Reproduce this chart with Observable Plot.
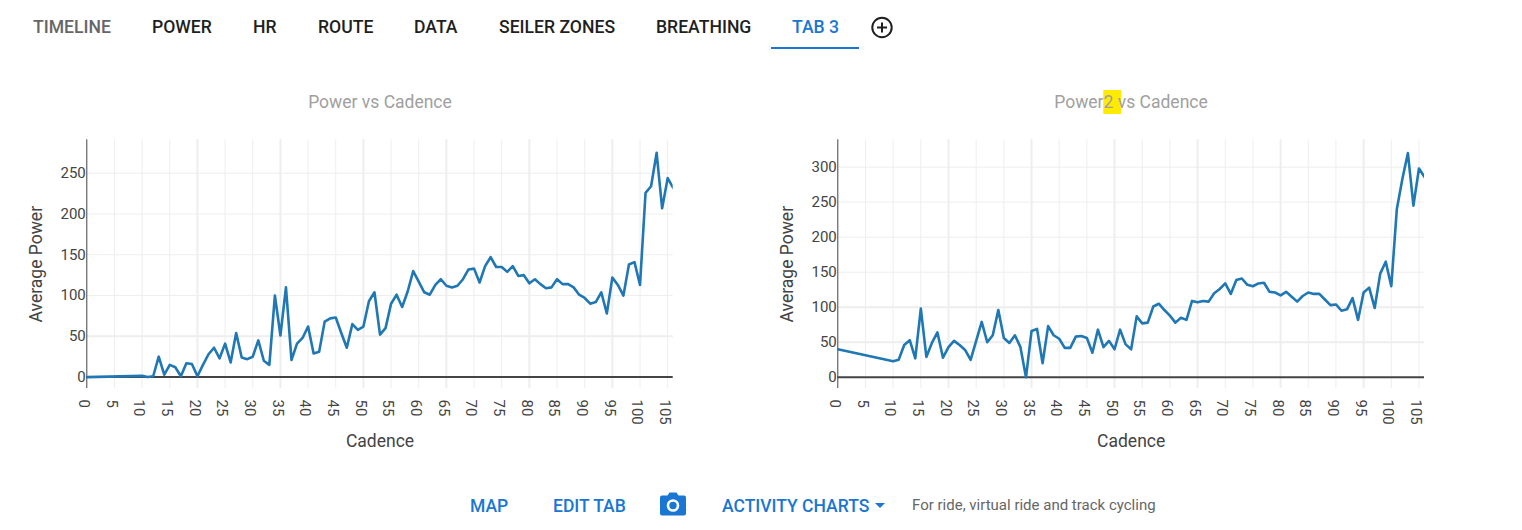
<!DOCTYPE html>
<html>
<head>
<meta charset="utf-8">
<script src="https://cdn.jsdelivr.net/npm/d3@7"></script>
<script src="https://cdn.jsdelivr.net/npm/@observablehq/plot@0.6"></script>
<style>
  html, body { margin: 0; padding: 0; background: #fff; font-family: Roboto, sans-serif; overflow: hidden; }
  #page { position: relative; width: 1522px; height: 530px; overflow: hidden; }
  .nav, .btn, .title, .note { position: absolute; white-space: nowrap; line-height: 20px; }
  .nav { top: 17px; font-size: 17.6px; font-weight: 500; color: #1f1f1f; }
  .nav.muted { color: #666; }
  .nav.active { color: #1976d2; }
  .btn { top: 496px; font-size: 17.5px; font-weight: 500; color: #1976d2; }
  .note { top: 495px; left: 912px; font-size: 15px; color: #666; }
  .title { top: 92px; font-size: 17.5px; color: #a0a0a0; transform: translateX(-50%); }
  .title .hl { background: #ffeb00; box-shadow: 4px 0 0 #ffeb00; padding: 2px 0; }
  #underline { position: absolute; left: 771px; top: 47px; width: 88px; height: 2px; background: #1976d2; }
  .chart { position: absolute; top: 130px; }
  .chart svg { display: block; }
  .icon { position: absolute; }
</style>
</head>
<body>
<div id="page"></div>
<script>
const tabs = ["TIMELINE", "POWER", "HR", "ROUTE", "DATA", "SEILER ZONES", "BREATHING", "TAB 3"];
const tabLefts = [33, 152, 253, 318, 414, 499, 656, 792];
const buttons = ["MAP", "EDIT TAB", "ACTIVITY CHARTS"];
const buttonLefts = [470, 553, 722];
const noteText = "For ride, virtual ride and track cycling";

const xTicks = [0, 5, 10, 15, 20, 25, 30, 35, 40, 45, 50, 55, 60, 65, 70, 75, 80, 85, 90, 95, 100, 105];
const thickX = [20, 35, 50, 65, 80, 95];

const cadence = [0, 10, 11, 12, 13, 14, 15, 16, 17, 18, 19, 20, 21, 22, 23, 24, 25, 26, 27, 28, 29, 30, 31, 32, 33, 34, 35, 36, 37, 38, 39, 40, 41, 42, 43, 44, 45, 46, 47, 48, 49, 50, 51, 52, 53, 54, 55, 56, 57, 58, 59, 60, 61, 62, 63, 64, 65, 66, 67, 68, 69, 70, 71, 72, 73, 74, 75, 76, 77, 78, 79, 80, 81, 82, 83, 84, 85, 86, 87, 88, 89, 90, 91, 92, 93, 94, 95, 96, 97, 98, 99, 100, 101, 102, 103, 104, 105, 106];

const power1 = [0, 1.5, 0, 1, 25, 3, 15, 12, 1, 17, 16, 1, 15, 28, 36, 23, 41, 18, 54, 24, 22, 25, 45, 20, 15, 100, 51, 110, 21, 41, 48, 62, 29, 31, 68, 72, 73, 54, 36, 65, 58, 62, 93, 104, 52, 60, 90, 101, 86, 105, 130, 117, 104, 101, 113, 120, 112, 110, 112, 120, 132, 133, 116, 136, 147, 135, 135, 129, 136, 124, 125, 115, 120, 114, 109, 110, 120, 114, 114, 110, 101, 97, 90, 92, 104, 78, 122, 113, 100, 138, 141, 113, 226, 234, 275, 207, 244, 232];
const power2 = [40, 23, 25, 46, 53, 27, 98, 29, 49, 64, 28, 43, 52, 46, 39, 25, 52, 79, 50, 60, 96, 56, 49, 60, 43, 0, 66, 69, 20, 73, 60, 55, 42, 42, 58, 59, 56, 35, 68, 43, 52, 40, 68, 47, 40, 87, 77, 78, 101, 105, 96, 88, 78, 85, 82, 109, 107, 109, 108, 120, 126, 134, 119, 139, 141, 132, 130, 134, 135, 122, 121, 117, 122, 115, 108, 116, 121, 119, 119, 111, 103, 104, 95, 97, 113, 82, 121, 128, 99, 148, 165, 130, 240, 283, 320, 245, 298, 286];

const yTicks1 = [0, 50, 100, 150, 200, 250];
const yTicks2 = [0, 50, 100, 150, 200, 250, 300];
const thickY1 = [50];
const thickY2 = [50, 100];

const page = document.getElementById("page");

function addDiv(cls, text, left) {
  const d = document.createElement("div");
  d.className = cls;
  d.textContent = text;
  if (left != null) d.style.left = left + "px";
  page.appendChild(d);
  return d;
}

tabs.forEach((t, i) => addDiv("nav" + (i === 0 ? " muted" : i === tabs.length - 1 ? " active" : ""), t, tabLefts[i]));
const ul = document.createElement("div"); ul.id = "underline"; page.appendChild(ul);
buttons.forEach((t, i) => addDiv("btn", t, buttonLefts[i]));
addDiv("note", noteText);

addDiv("title", "Power vs Cadence", 380);
const t2 = addDiv("title", "", 1131);
t2.innerHTML = 'Power<span class="hl">2 </span><span style="position:relative">vs Cadence</span>';

page.insertAdjacentHTML("beforeend", `
<svg class="icon" style="left:870px;top:16px" width="24" height="24" viewBox="0 0 24 24">
  <circle cx="12" cy="11.5" r="9.7" fill="none" stroke="#1f1f1f" stroke-width="2"/>
  <path d="M12 6.5v10M7 11.5h10" stroke="#1f1f1f" stroke-width="2"/>
</svg>
<svg class="icon" style="left:660px;top:492px" width="26" height="24" viewBox="0 0 26 24">
  <path d="M2 3.5h5.5L9.5 .5h7l2 3h5.500a2 2 0 0 1 2 2v16a2 2 0 0 1-2 2H2a2 2 0 0 1-2-2v-16a2 2 0 0 1 2-2z" fill="#1976d2"/>
  <circle cx="13" cy="13.500" r="5" fill="none" stroke="#fff" stroke-width="2.600"/>
</svg>
<svg class="icon" style="left:875px;top:503px" width="10" height="5" viewBox="0 0 10 5">
  <path d="M0 0h10L5 5z" fill="#1976d2"/>
</svg>`);

function chart(left, width, marginLeft, marginRight, yDomain, yTicks, thickY, values) {
  const rows = cadence.map((c, i) => ({c, v: values[i]}));
  const ink = "#444";
  const grid = "#eeeeee";
  const svg = Plot.plot({
    width, height: 330,
    marginLeft, marginRight, marginTop: 9.3, marginBottom: 72,
    style: {background: "transparent", fontFamily: "Roboto, sans-serif", overflow: "visible"},
    x: {domain: [0, 106], axis: null},
    y: {domain: yDomain, axis: null},
    marks: [
      Plot.ruleX(xTicks.slice(1), {x: d => d, stroke: grid, strokeWidth: 1}),
      Plot.ruleX(thickX, {x: d => d, stroke: grid, strokeWidth: 2}),
      Plot.ruleY(yTicks.slice(1), {y: d => d, stroke: grid, strokeWidth: 1}),
      Plot.ruleY(thickY, {y: d => d, stroke: grid, strokeWidth: 2}),
      Plot.ruleY([0], {stroke: ink, strokeWidth: 2}),
      Plot.ruleX([0], {stroke: ink, strokeWidth: 1}),
      Plot.line(rows, {x: "c", y: "v", stroke: "#1f77b4", strokeWidth: 2.6, curve: "linear", clip: true}),
      Plot.axisX(xTicks, {anchor: "bottom", tickSize: 0, tickPadding: 11, tickRotate: 90, label: null, fontSize: 15, fill: ink, dx: -3, textAnchor: "start", lineAnchor: "middle"}),
      Plot.axisY(yTicks, {anchor: "left", tickSize: 0, tickPadding: 1, label: null, fontSize: 15, fill: ink}),
      Plot.text(["Cadence"], {frameAnchor: "bottom", dy: 58, fontSize: 17.5, fill: ink}),
      Plot.text(["Average Power"], {frameAnchor: "left", dx: -50, rotate: -90, textAnchor: "middle", fontSize: 17.5, fill: ink})
    ]
  });
  const holder = document.createElement("div");
  holder.className = "chart";
  holder.style.left = left + "px";
  holder.appendChild(svg);
  page.appendChild(holder);
}

chart(0, 760, 86.3, 87.3, [-14, 291], yTicks1, thickY1, power1);
chart(760, 760, 77.3, 96, [-16, 339], yTicks2, thickY2, power2);
</script>
</body>
</html>
